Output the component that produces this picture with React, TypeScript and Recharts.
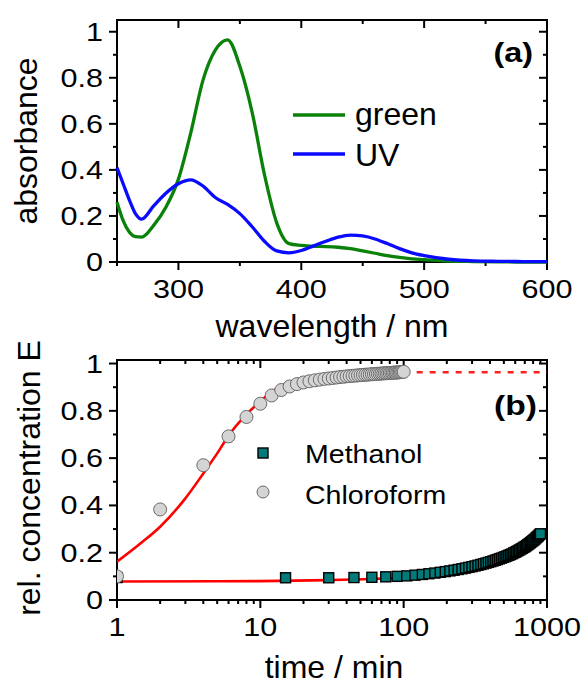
import React from 'react';
import { LineChart, ComposedChart, Line, Scatter, XAxis, YAxis, ReferenceArea, ReferenceLine } from 'recharts';

// (a) absorption spectra
const wavelengths = [250, 255, 260, 265, 270, 280, 290, 300, 310, 320, 330, 340, 350, 360, 370, 380, 390, 400, 410, 420, 430, 440, 450, 460, 470, 480, 490, 500, 520, 540, 560, 580, 600];
const greenAbs = [0.26, 0.18, 0.13, 0.11, 0.108, 0.16, 0.24, 0.36, 0.56, 0.79, 0.92, 0.965, 0.85, 0.65, 0.38, 0.17, 0.08, 0.072, 0.068, 0.067, 0.064, 0.058, 0.048, 0.038, 0.028, 0.02, 0.014, 0.01, 0.004, 0.002, 0.001, 0, 0];
const uvAbs = [0.41, 0.34, 0.27, 0.21, 0.186, 0.245, 0.3, 0.34, 0.357, 0.33, 0.28, 0.25, 0.21, 0.153, 0.09, 0.048, 0.04, 0.05, 0.07, 0.09, 0.108, 0.117, 0.113, 0.1, 0.08, 0.058, 0.04, 0.028, 0.012, 0.005, 0.003, 0.002, 0.002];

// (b) kinetics
const chloroTime = [1, 2, 4, 6, 8, 10, 12, 14, 16, 18, 20, 22, 24, 26, 28, 30, 32, 34, 36, 38, 40, 42, 44, 46, 48, 50, 52, 54, 56, 58, 60, 62, 64, 66, 68, 70, 72, 74, 76, 78, 80, 82, 84, 86, 88, 90, 92, 94, 96, 98, 100];
const chloroConc = [0.1, 0.383, 0.57, 0.692, 0.774, 0.83, 0.865, 0.888, 0.903, 0.913, 0.92, 0.925, 0.929, 0.932, 0.935, 0.937, 0.939, 0.941, 0.943, 0.944, 0.946, 0.947, 0.948, 0.949, 0.95, 0.951, 0.952, 0.953, 0.953, 0.954, 0.955, 0.955, 0.956, 0.957, 0.957, 0.958, 0.958, 0.959, 0.959, 0.96, 0.96, 0.961, 0.961, 0.962, 0.962, 0.962, 0.963, 0.963, 0.964, 0.964, 0.965];
const methTime = [1, 15, 30, 45, 60, 75, 90, 105, 120, 135, 150, 165, 180, 195, 210, 225, 240, 255, 270, 285, 300, 315, 330, 345, 360, 375, 390, 405, 420, 435, 450, 465, 480, 495, 510, 525, 540, 555, 570, 585, 600, 615, 630, 645, 660, 675, 690, 705, 720, 735, 750, 765, 780, 795, 810, 825, 840, 855, 870, 885, 900];
const methConc = [0.095, 0.094, 0.094, 0.095, 0.096, 0.098, 0.1, 0.102, 0.105, 0.108, 0.111, 0.114, 0.117, 0.12, 0.123, 0.126, 0.129, 0.132, 0.135, 0.138, 0.141, 0.144, 0.147, 0.15, 0.153, 0.156, 0.159, 0.162, 0.165, 0.168, 0.171, 0.174, 0.177, 0.18, 0.183, 0.186, 0.189, 0.192, 0.195, 0.199, 0.202, 0.205, 0.209, 0.212, 0.216, 0.219, 0.223, 0.226, 0.23, 0.234, 0.238, 0.242, 0.246, 0.25, 0.254, 0.258, 0.263, 0.267, 0.271, 0.276, 0.28];
const chloroFitTime = [1, 1.5, 2, 3, 4, 5, 6, 8, 10, 12, 15, 20, 30, 50, 70, 100];
const chloroFitConc = [0.162, 0.245, 0.31, 0.43, 0.535, 0.62, 0.695, 0.785, 0.84, 0.88, 0.915, 0.94, 0.955, 0.961, 0.963, 0.964];
const plateauTime = [100, 1000];
const plateauConc = [0.963, 0.963];
const methFitTime = [1, 10, 30, 60, 100, 150, 200, 300, 400, 500, 600, 700, 800, 900];
const methFitConc = [0.078, 0.08, 0.084, 0.089, 0.095, 0.103, 0.112, 0.13, 0.15, 0.17, 0.19, 0.212, 0.237, 0.265];

// ticks
const wlMajor = [300, 400, 500, 600];
const wlMinor = [250, 350, 450, 550];
const fracMajor = [0, 0.2, 0.4, 0.6, 0.8, 1];
const fracMinor = [0.1, 0.3, 0.5, 0.7, 0.9];
const timeMajor = [1, 10, 100, 1000];
const timeMinor = [2, 3, 4, 5, 6, 7, 8, 9, 20, 30, 40, 50, 60, 70, 80, 90, 200, 300, 400, 500, 600, 700, 800, 900];

const FONT = '"Liberation Sans", Arial, Helvetica, sans-serif';
const PLOT_W = 430;

const pairs = (ts: number[], es: number[]) => ts.map((t, i) => ({ t, e: es[i] }));
const spectra = wavelengths.map((wl, i) => ({ wl, green: greenAbs[i], uv: uvAbs[i] }));

const XLabel = (p: any) => (
  <text transform={`translate(${p.x},${p.y + 28}) scale(1.2,1)`} textAnchor="middle" fontSize={25.5} fontFamily={FONT} fill="#000">
    {p.payload.value}
  </text>
);
const YLabel = (p: any) => (
  <text transform={`translate(${p.x - 6},${p.y + 9}) scale(1.2,1)`} textAnchor="end" fontSize={25.5} fontFamily={FONT} fill="#000">
    {String(p.payload.value)}
  </text>
);

// frame tick marks: outward on bottom/left, inward on top/right (lengths in px, converted to data units)
interface Frame {
  x0: number; x1: number; y0: number; y1: number;
  shiftX: (x: number, px: number) => number;
  dyPerPx: number;
}
function frameTicks(key: string, f: Frame, xMaj: number[], xMin: number[], yMaj: number[], yMin: number[]) {
  const seg = (k: string, a: any, b: any) => (
    <ReferenceLine key={k} segment={[a, b]} stroke="#000" strokeWidth={2} ifOverflow="visible" />
  );
  const out: React.ReactNode[] = [];
  [...xMaj, ...xMin].forEach((v) => {
    const len = (xMaj.includes(v) ? 8 : 4) * f.dyPerPx;
    out.push(seg(`${key}xb${v}`, { x: v, y: f.y0 - len }, { x: v, y: f.y0 }));
    out.push(seg(`${key}xt${v}`, { x: v, y: f.y1 }, { x: v, y: f.y1 - len }));
  });
  [...yMaj, ...yMin].forEach((v) => {
    const px = yMaj.includes(v) ? 8 : 4;
    out.push(seg(`${key}yl${v}`, { x: f.shiftX(f.x0, -px), y: v }, { x: f.x0, y: v }));
    out.push(seg(`${key}yr${v}`, { x: f.shiftX(f.x1, -px), y: v }, { x: f.x1, y: v }));
  });
  return out;
}

const frameA: Frame = {
  x0: 250, x1: 600, y0: 0, y1: 1.051,
  shiftX: (x, px) => x + (px * 350) / PLOT_W,
  dyPerPx: 1.051 / 242,
};
const frameB: Frame = {
  x0: 1, x1: 1000, y0: 0, y1: 1.015,
  shiftX: (x, px) => x * Math.pow(10, (px * 3) / PLOT_W),
  dyPerPx: 1.015 / 240,
};

export default function App() {
  return (
    <div style={{ position: 'absolute', left: 0, top: 0, width: 587, height: 684, background: '#fff' }}>
      <div style={{ position: 'absolute', left: 0, top: 0 }}>
        <LineChart width={587} height={345} data={spectra} margin={{ top: 20, right: 40, bottom: 0, left: 0 }}>
          <XAxis
            dataKey="wl"
            type="number"
            domain={[250, 600]}
            ticks={wlMajor}
            interval={0}
            height={83}
            axisLine={false}
            tickLine={false}
            tickSize={8}
            tickMargin={0}
            tick={XLabel}
          />
          <YAxis
            type="number"
            domain={[0, 1.051]}
            ticks={fracMajor}
            interval={0}
            width={117}
            axisLine={false}
            tickLine={false}
            tickSize={8}
            tickMargin={0}
            tick={YLabel}
          />
          <ReferenceArea x1={250} x2={600} y1={0} y2={1.051} fill="none" stroke="#000" strokeWidth={2} />
          {frameTicks('a', frameA, wlMajor, wlMinor, fracMajor, fracMinor)}
          <Line type="monotone" dataKey="green" stroke="#0a820a" strokeWidth={3.3} dot={false} isAnimationActive={false} />
          <Line type="monotone" dataKey="uv" stroke="#0a0aff" strokeWidth={3.3} dot={false} isAnimationActive={false} />
        </LineChart>
      </div>
      <div style={{ position: 'absolute', left: 0, top: 345 }}>
        <ComposedChart width={587} height={339} margin={{ top: 15, right: 40, bottom: 0, left: 0 }}>
          <XAxis
            dataKey="t"
            type="number"
            scale="log"
            domain={[1, 1000]}
            allowDataOverflow
            ticks={timeMajor}
            interval={0}
            height={84}
            axisLine={false}
            tickLine={false}
            tickSize={8}
            tickMargin={0}
            tick={XLabel}
          />
          <YAxis
            dataKey="e"
            type="number"
            domain={[0, 1.015]}
            allowDataOverflow
            ticks={fracMajor}
            interval={0}
            width={117}
            axisLine={false}
            tickLine={false}
            tickSize={8}
            tickMargin={0}
            tick={YLabel}
          />
          <ReferenceArea x1={1} x2={1000} y1={0} y2={1.015} fill="none" stroke="#000" strokeWidth={2} />
          {frameTicks('b', frameB, timeMajor, timeMinor, fracMajor, fracMinor)}
          <Scatter data={pairs(methTime, methConc)} shape={(p: any) => <rect x={p.cx - 5} y={p.cy - 5} width={10} height={10} fill="#007b7a" stroke="#000" strokeWidth={1.4} />} isAnimationActive={false} />
          <Scatter data={pairs(chloroTime, chloroConc)} shape={(p: any) => <circle cx={p.cx} cy={p.cy} r={6.5} fill="#d4d4d4" stroke="#6a6a6a" strokeWidth={1} />} isAnimationActive={false} />
          <Line data={pairs(methFitTime, methFitConc)} dataKey="e" type="monotone" stroke="#ff0000" strokeWidth={2.6} dot={false} isAnimationActive={false} />
          <Line data={pairs(chloroFitTime, chloroFitConc)} dataKey="e" type="monotone" stroke="#ff0000" strokeWidth={2.6} dot={false} isAnimationActive={false} />
          <Line data={pairs(plateauTime, plateauConc)} dataKey="e" stroke="#ff2020" strokeWidth={2.6} strokeDasharray="6 7" dot={false} isAnimationActive={false} />
        </ComposedChart>
      </div>
      <svg width={587} height={684} style={{ position: 'absolute', left: 0, top: 0, pointerEvents: 'none' }} fontFamily={FONT}>
        {/* axis titles */}
        <text transform="translate(37,141) rotate(-90)" textAnchor="middle" fontSize={32} fill="#000">absorbance</text>
        <text x={332} y={337} textAnchor="middle" fontSize={32} fill="#000">wavelength / nm</text>
        <text transform="translate(40,478) rotate(-90)" textAnchor="middle" fontSize={32} fill="#000">rel. concentration E</text>
        <text x={334} y={678} textAnchor="middle" fontSize={32} fill="#000">time / min</text>
        {/* panel labels */}
        <text transform="translate(533,62) scale(1.2,1)" textAnchor="end" fontSize={27} fontWeight="bold" fill="#000">(a)</text>
        <text transform="translate(537,415) scale(1.2,1)" textAnchor="end" fontSize={28} fontWeight="bold" fill="#000">(b)</text>
        {/* legend (a) */}
        <line x1={293} x2={345} y1={115} y2={115} stroke="#0a820a" strokeWidth={3.5} />
        <text x={355} y={125} fontSize={32} fill="#000">green</text>
        <line x1={293} x2={345} y1={154} y2={154} stroke="#0a0aff" strokeWidth={3.5} />
        <text x={355} y={166} fontSize={32} fill="#000">UV</text>
        {/* legend (b) */}
        <rect x={258} y={448} width={10} height={10} fill="#007b7a" stroke="#000" strokeWidth={1.4} />
        <text transform="translate(305,463) scale(1.12,1)" fontSize={25.5} fill="#000">Methanol</text>
        <circle cx={263} cy={492} r={6} fill="#d4d4d4" stroke="#6a6a6a" strokeWidth={1} />
        <text transform="translate(305,504) scale(1.12,1)" fontSize={25.5} fill="#000">Chloroform</text>
      </svg>
    </div>
  );
}
